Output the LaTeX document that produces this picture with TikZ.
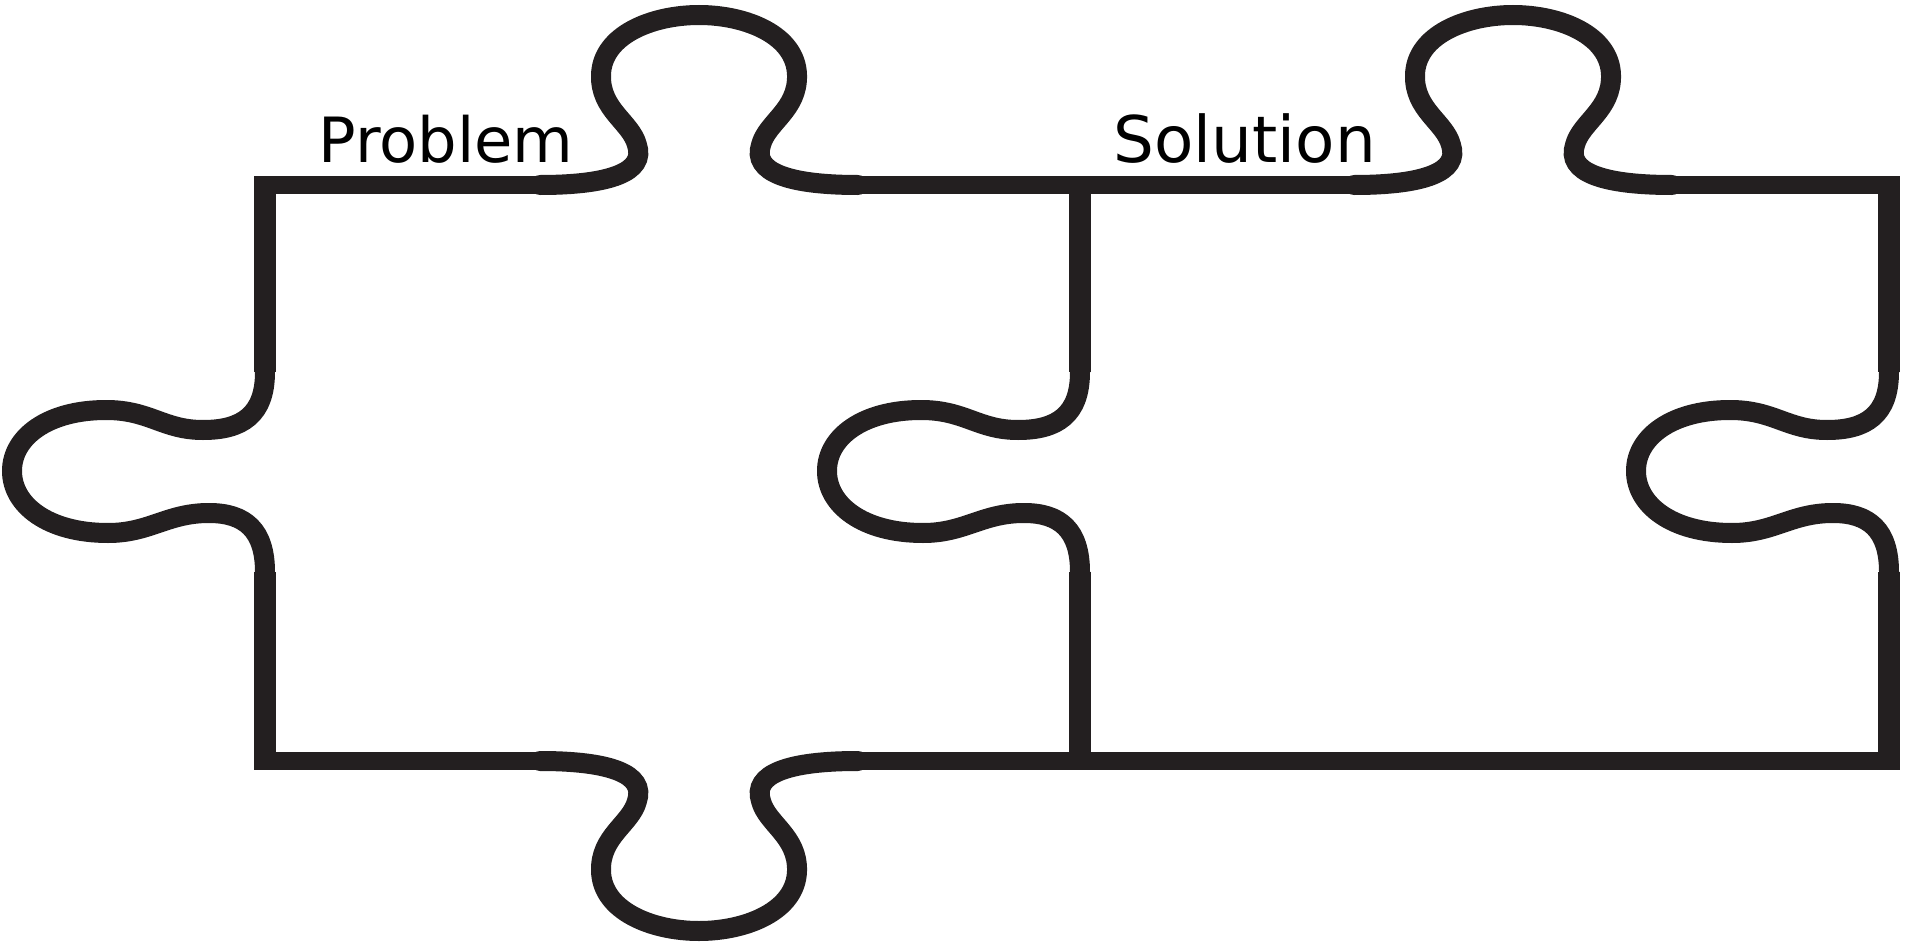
\documentclass[tikz,border=0pt]{standalone}
\usepackage{fontspec}
\setmainfont{DejaVu Sans}
\definecolor{ink}{HTML}{231F20}
\tikzset{
  hline/.style={line width=1.8mm, draw=ink},
  vline/.style={line width=2.2mm, draw=ink},
  knob/.style={line width=2.0mm, draw=ink, line cap=round},
  label/.style={anchor=base west, inner sep=0pt, text=black}
}
\begin{document}
\begin{tikzpicture}[x=0.1mm, y=-0.1mm]
\useasboundingbox (0,0) rectangle (1911,946);
% top knobs (left piece and right piece)
\foreach \s in {0,814}{
  \begin{scope}[shift={(\s,0)}]
    \draw[knob] (540,185) .. controls (610,185) and (646,172) .. (637,145)
      .. controls (631,122) and (600,110) .. (601,75)
      .. controls (602,35) and (652,15) .. (699,15)
      .. controls (746,15) and (796,35) .. (797,75)
      .. controls (798,110) and (767,122) .. (761,145)
      .. controls (752,172) and (788,185) .. (858,185);
  \end{scope}
}
% bottom knob
\draw[knob] (540,761) .. controls (610,761) and (646,774) .. (637,801)
  .. controls (631,824) and (600,836) .. (601,871)
  .. controls (602,911) and (652,931) .. (699,931)
  .. controls (746,931) and (796,911) .. (797,871)
  .. controls (798,836) and (767,824) .. (761,801)
  .. controls (752,774) and (788,761) .. (858,761);
% side knobs (left edge, shared edge, right edge)
\foreach \s in {0,815,1624}{
  \begin{scope}[shift={(\s,0)}]
    \draw[knob] (265,572) .. controls (265,530) and (245,513) .. (209,513)
      .. controls (167,513) and (150,533) .. (108,533)
      .. controls (48,533) and (12,505) .. (12,471)
      .. controls (12,437) and (48,410) .. (106,410)
      .. controls (150,410) and (163,430) .. (203,430)
      .. controls (242,430) and (265,415) .. (265,372);
  \end{scope}
}
% straight edges
\draw[hline] (254,185) -- (540,185);
\draw[hline] (858,185) -- (1354,185);
\draw[hline] (1672,185) -- (1900,185);
\draw[hline] (254,761) -- (540,761);
\draw[hline] (858,761) -- (1900,761);
\foreach \x in {265,1080,1889}{
  \draw[vline] (\x,176) -- (\x,372);
  \draw[vline] (\x,572) -- (\x,770);
}
% labels
\node[label] (problem) at (318,162) {\resizebox{25.5mm}{!}{Problem}};
\node[label] (solution) at (1113,162) {\resizebox{26.2mm}{!}{Solution}};
\end{tikzpicture}
\end{document}
